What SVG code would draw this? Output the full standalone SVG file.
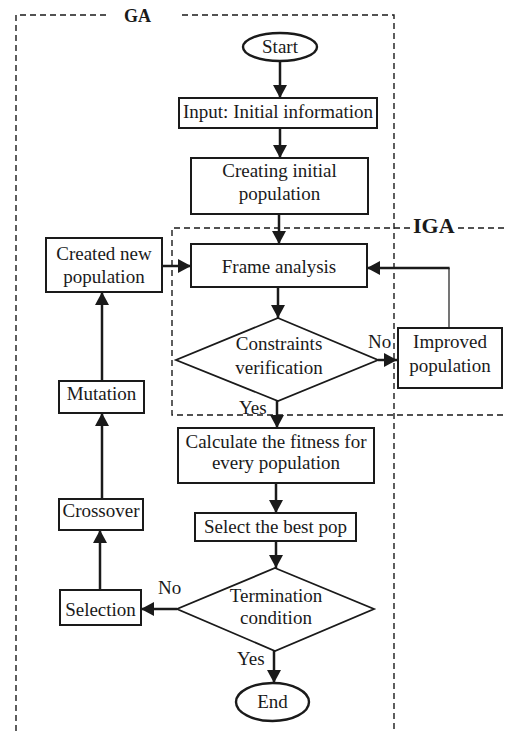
<svg xmlns="http://www.w3.org/2000/svg" width="506" height="731" viewBox="0 0 506 731">
<defs>
<marker id="ah" markerUnits="userSpaceOnUse" markerWidth="14" markerHeight="14" refX="13" refY="7" orient="auto">
<path d="M0,0 L13,7 L0,14 z" fill="#1a1a1a"/>
</marker>
<style>
.box{fill:#fff;stroke:#1a1a1a;stroke-width:2}
.term{fill:#fff;stroke:#1a1a1a;stroke-width:2.4}
.dia{fill:#fff;stroke:#1a1a1a;stroke-width:1.8}
.t{font-family:"Liberation Serif","Times New Roman",serif;font-size:19px;fill:#1a1a1a;text-anchor:middle}
.lab{font-family:"Liberation Serif","Times New Roman",serif;font-size:19px;fill:#1a1a1a}
.gl{font-family:"Liberation Serif","Times New Roman",serif;font-weight:bold;fill:#1a1a1a}
.dash{fill:none;stroke:#1a1a1a;stroke-width:1.4;stroke-dasharray:6 4}
.c{fill:none;stroke:#1a1a1a;stroke-width:2.5}
.thin{fill:none;stroke:#1a1a1a;stroke-width:1.2}
</style>
</defs>
<rect width="506" height="731" fill="#fff"/>

<g id="ga-frame">
<path class="dash" d="M16,731 V15 H107"/>
<path class="dash" d="M182,15 H394 V731"/>
<text class="gl" x="124" y="22" font-size="18">GA</text>
</g>
<g id="iga-frame">
<path class="dash" d="M410,228 H172 V415 H506"/>
<path class="dash" d="M458,228 H506"/>
<text class="gl" x="413" y="233" font-size="22">IGA</text>
</g>

<g id="connectors">
<line class="c" x1="280" y1="61" x2="280" y2="98" marker-end="url(#ah)"/>
<line class="c" x1="280" y1="128" x2="280" y2="158" marker-end="url(#ah)"/>
<line class="c" x1="279" y1="214" x2="279" y2="244" marker-end="url(#ah)"/>
<line class="c" x1="278" y1="287" x2="278" y2="318" marker-end="url(#ah)"/>
<line class="c" x1="378" y1="360" x2="397" y2="360" marker-end="url(#ah)"/>
<line class="thin" x1="449" y1="328" x2="449" y2="268"/>
<line class="c" x1="449.6" y1="268" x2="367" y2="268" marker-end="url(#ah)"/>
<line class="c" x1="277" y1="401" x2="277" y2="428" marker-end="url(#ah)"/>
<line class="c" x1="276" y1="483" x2="276" y2="513" marker-end="url(#ah)"/>
<line class="c" x1="276" y1="541" x2="276" y2="568" marker-end="url(#ah)"/>
<line class="c" x1="177" y1="609" x2="141" y2="609" marker-end="url(#ah)"/>
<line class="c" x1="100" y1="590" x2="100" y2="530" marker-end="url(#ah)"/>
<line class="c" x1="102" y1="499" x2="102" y2="413" marker-end="url(#ah)"/>
<line class="c" x1="102" y1="381" x2="102" y2="292" marker-end="url(#ah)"/>
<line class="c" x1="162" y1="266" x2="191" y2="266" marker-end="url(#ah)"/>
<line class="c" x1="274" y1="651" x2="274" y2="683" marker-end="url(#ah)"/>
<text class="lab" x="368" y="348">No</text>
<text class="lab" x="239" y="414">Yes</text>
<text class="lab" x="158" y="594">No</text>
<text class="lab" x="237" y="665">Yes</text>
</g>

<g id="start">
<ellipse class="term" cx="280" cy="47" rx="37" ry="14"/>
<text class="t" x="280" y="53">Start</text>
</g>
<g id="input">
<rect class="box" x="179" y="98" width="198" height="30"/>
<text class="t" x="278" y="118">Input: Initial information</text>
</g>
<g id="creating">
<rect class="box" x="191" y="158" width="177" height="56"/>
<text class="t" x="279.5" y="177">Creating initial</text>
<text class="t" x="279.5" y="200">population</text>
</g>
<g id="frame">
<rect class="box" x="191" y="244" width="176" height="43"/>
<text class="t" x="279" y="273">Frame analysis</text>
</g>
<g id="constraints">
<polygon class="dia" points="278,318 378,360 278,401 176,360"/>
<text class="t" x="279" y="350">Constraints</text>
<text class="t" x="279" y="374">verification</text>
</g>
<g id="improved">
<rect class="box" x="398" y="328" width="104" height="60"/>
<text class="t" x="450" y="348">Improved</text>
<text class="t" x="450" y="372">population</text>
</g>
<g id="created">
<rect class="box" x="46" y="238" width="116" height="54"/>
<text class="t" x="104" y="260">Created new</text>
<text class="t" x="104" y="283">population</text>
</g>
<g id="mutation">
<rect class="box" x="59" y="381" width="85" height="32"/>
<text class="t" x="101.5" y="400">Mutation</text>
</g>
<g id="crossover">
<rect class="box" x="59" y="499" width="84" height="31"/>
<text class="t" x="101" y="517">Crossover</text>
</g>
<g id="selection">
<rect class="box" x="60" y="590" width="81" height="35"/>
<text class="t" x="100.5" y="616">Selection</text>
</g>
<g id="calculate">
<rect class="box" x="178" y="428" width="196" height="55"/>
<text class="t" x="276" y="448">Calculate the fitness for</text>
<text class="t" x="276" y="469">every population</text>
</g>
<g id="select">
<rect class="box" x="195" y="513" width="161" height="28"/>
<text class="t" x="275.5" y="533">Select the best pop</text>
</g>
<g id="termination">
<polygon class="dia" points="275,568 374,609 275,651 177,609"/>
<text class="t" x="276" y="602">Termination</text>
<text class="t" x="276" y="624">condition</text>
</g>
<g id="end">
<ellipse class="term" cx="272.5" cy="702" rx="36.5" ry="19"/>
<text class="t" x="272.5" y="708">End</text>
</g>
</svg>
